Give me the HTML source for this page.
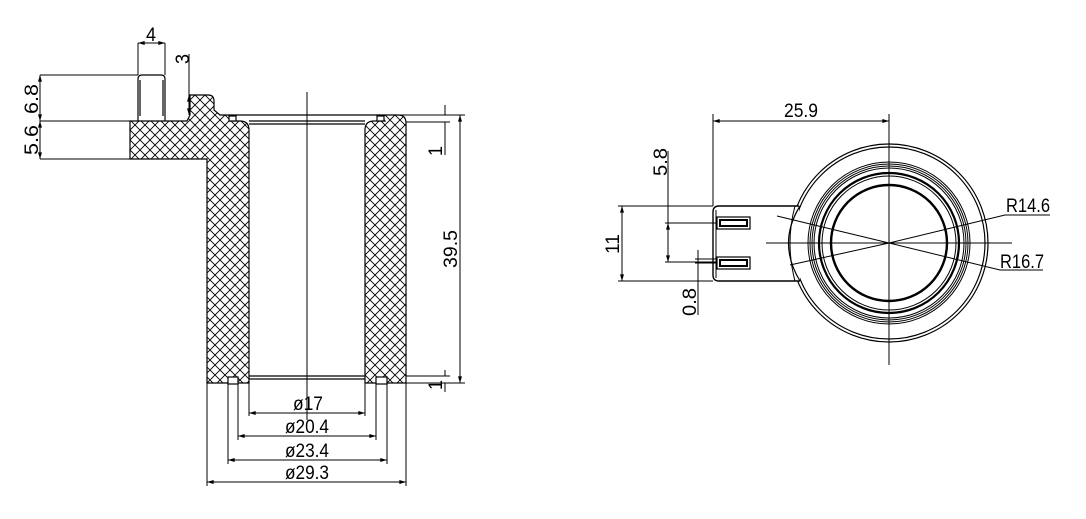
<!DOCTYPE html>
<html><head><meta charset="utf-8"><style>
html,body{margin:0;padding:0;background:#fff;}
svg{display:block;}
text{font-family:"Liberation Sans",sans-serif;font-size:19px;fill:#000;}
</style></head><body>
<svg width="1086" height="519" viewBox="0 0 1086 519" xmlns="http://www.w3.org/2000/svg">
<defs>
<pattern id="h" width="10" height="10" patternUnits="userSpaceOnUse">
<path d="M0 0L10 10M10 0L0 10" stroke="#000" stroke-width="0.9"/>
</pattern>
<marker id="a" viewBox="0 0 10 6" refX="10" refY="3" markerWidth="7" markerHeight="4" orient="auto-start-reverse"><path d="M0 0L10 3L0 6z" fill="#000"/></marker>
</defs>
<g stroke="#000" stroke-width="1.2" fill="none">
<path d="M130 121 H187 L190 115 V95 H208 Q214 95 214 101 V110 L220 115 H236 L230 121 H240 Q249 121 249 130 V383 H207 V159 H130 Z" fill="url(#h)"/>
<path d="M365 130 Q365 121 374 121 H385 L380 115 H398 Q406 115 406 123 V383 H365 Z" fill="url(#h)"/>
<rect x="228" y="377" width="10" height="7" fill="#fff"/>
<rect x="376" y="377" width="11" height="7" fill="#fff"/>
<rect x="229" y="116" width="7" height="5" fill="#fff"/>
<rect x="377" y="116" width="7" height="5" fill="#fff"/>
<path d="M138 121 V79 Q138 75 142 75 H161 Q165 75 165 79 V121"/>
<path d="M140 80 V116 M163 80 V116"/>
<path d="M236 115 H380 M249 121 H365 M249 124 H365"/>
<path d="M249 376 H365 M249 379 H365"/>
<path d="M307 92 V420" stroke-width="1"/>
<path d="M40 75 H138 M40 121 H130 M40 159 H207" stroke-width="1"/>
<path d="M40 75 V121" marker-start="url(#a)" marker-end="url(#a)" stroke-width="1"/>
<path d="M40 121 V159" marker-start="url(#a)" marker-end="url(#a)" stroke-width="1"/>
<path d="M138 43 V75 M165 43 V75" stroke-width="1"/>
<path d="M138 43 H165" marker-start="url(#a)" marker-end="url(#a)" stroke-width="1"/>
<path d="M189 54 V115" stroke-width="1"/>
<path d="M189 95 V115" marker-start="url(#a)" marker-end="url(#a)" stroke-width="1"/>
<path d="M398 115 H465 M406 122 H450 M406 383 H465 M406 376 H450" stroke-width="1"/>
<path d="M445 105 V115 M445 122 V155" stroke-width="1"/>
<path d="M445 370 V376 M445 383 V392" stroke-width="1"/>
<path d="M460 115 V383" marker-start="url(#a)" marker-end="url(#a)" stroke-width="1"/>
<path d="M249 383 V416 M365 383 V416 M238 384 V440 M376 384 V440 M228 384 V464 M387 384 V464 M207 383 V486 M406 383 V486" stroke-width="1"/>
<path d="M249 413 H365" marker-start="url(#a)" marker-end="url(#a)" stroke-width="1"/>
<path d="M238 436 H376" marker-start="url(#a)" marker-end="url(#a)" stroke-width="1"/>
<path d="M228 460 H387" marker-start="url(#a)" marker-end="url(#a)" stroke-width="1"/>
<path d="M207 482 H406" marker-start="url(#a)" marker-end="url(#a)" stroke-width="1"/>

<circle cx="889" cy="243" r="99"/>
<circle cx="889" cy="243" r="96"/>
<circle cx="889" cy="243" r="81" stroke-width="1"/>
<circle cx="889" cy="243" r="79" stroke-width="1"/>
<circle cx="889" cy="243" r="77" stroke-width="1"/>
<circle cx="889" cy="243" r="75" stroke-width="1"/>
<circle cx="889" cy="243" r="70" stroke-width="2.2"/>
<circle cx="889" cy="243" r="67" stroke-width="1"/>
<circle cx="889" cy="243" r="58" stroke-width="2.4"/>
<path d="M799 206 H719 Q713 206 713 212 V275 Q713 281 719 281 H800" fill="#fff" stroke-width="1.4"/>
<path d="M716 210 V278" stroke-width="1"/>
<path d="M800 206 Q777 243 800 281" stroke-width="1.2"/>
<path d="M795 206 Q785 243 795 281" stroke-width="1"/>
<rect x="717" y="217" width="33" height="12"/>
<rect x="720" y="220" width="27" height="6" stroke-width="2"/>
<rect x="717" y="257" width="33" height="12"/>
<rect x="720" y="260" width="27" height="6" stroke-width="2"/>
<path d="M766 243 H1012 M889 140 V365" stroke-width="1"/>
<path d="M777 216 L889 243 L1000 270 H1043" stroke-width="1"/>
<path d="M790 265 L889 243 L1005 215 H1050" stroke-width="1"/>
<path d="M713 114 V206 M889 114 V140" stroke-width="1"/>
<path d="M713 121 H889" marker-start="url(#a)" marker-end="url(#a)" stroke-width="1"/>
<path d="M618 206 H713 M618 281 H713" stroke-width="1"/>
<path d="M622 206 V281" marker-start="url(#a)" marker-end="url(#a)" stroke-width="1"/>
<path d="M665 223 H717 M665 262 H717" stroke-width="1"/>
<path d="M668 151 V262" stroke-width="1"/>
<path d="M668 223 V262" marker-start="url(#a)" marker-end="url(#a)" stroke-width="1"/>
<path d="M698 250 V315 M695 259 H717 M695 263 H717" stroke-width="1"/>
</g>
<text x="146" y="41" textLength="10" lengthAdjust="spacingAndGlyphs">4</text>
<text transform="translate(189,64) rotate(-90)" textLength="10" lengthAdjust="spacingAndGlyphs">3</text>
<text transform="translate(38,114) rotate(-90)" textLength="30" lengthAdjust="spacingAndGlyphs">6.8</text>
<text transform="translate(38,155) rotate(-90)" textLength="30" lengthAdjust="spacingAndGlyphs">5.6</text>
<text transform="translate(442,156) rotate(-90)" textLength="10" lengthAdjust="spacingAndGlyphs">1</text>
<text transform="translate(457,268) rotate(-90)" textLength="38" lengthAdjust="spacingAndGlyphs">39.5</text>
<text transform="translate(442,390) rotate(-90)" textLength="10" lengthAdjust="spacingAndGlyphs">1</text>
<text x="293" y="410" textLength="30" lengthAdjust="spacingAndGlyphs">ø17</text>
<text x="285" y="433" textLength="44" lengthAdjust="spacingAndGlyphs">ø20.4</text>
<text x="285" y="457" textLength="44" lengthAdjust="spacingAndGlyphs">ø23.4</text>
<text x="285" y="479" textLength="44" lengthAdjust="spacingAndGlyphs">ø29.3</text>
<text x="784" y="117" textLength="34" lengthAdjust="spacingAndGlyphs">25.9</text>
<text transform="translate(619,254) rotate(-90)" textLength="20" lengthAdjust="spacingAndGlyphs">11</text>
<text transform="translate(667,176) rotate(-90)" textLength="28" lengthAdjust="spacingAndGlyphs">5.8</text>
<text transform="translate(696,316) rotate(-90)" textLength="28" lengthAdjust="spacingAndGlyphs">0.8</text>
<text x="1006" y="212" textLength="44" lengthAdjust="spacingAndGlyphs">R14.6</text>
<text x="1000" y="268" textLength="44" lengthAdjust="spacingAndGlyphs">R16.7</text>
</svg>
</body></html>
